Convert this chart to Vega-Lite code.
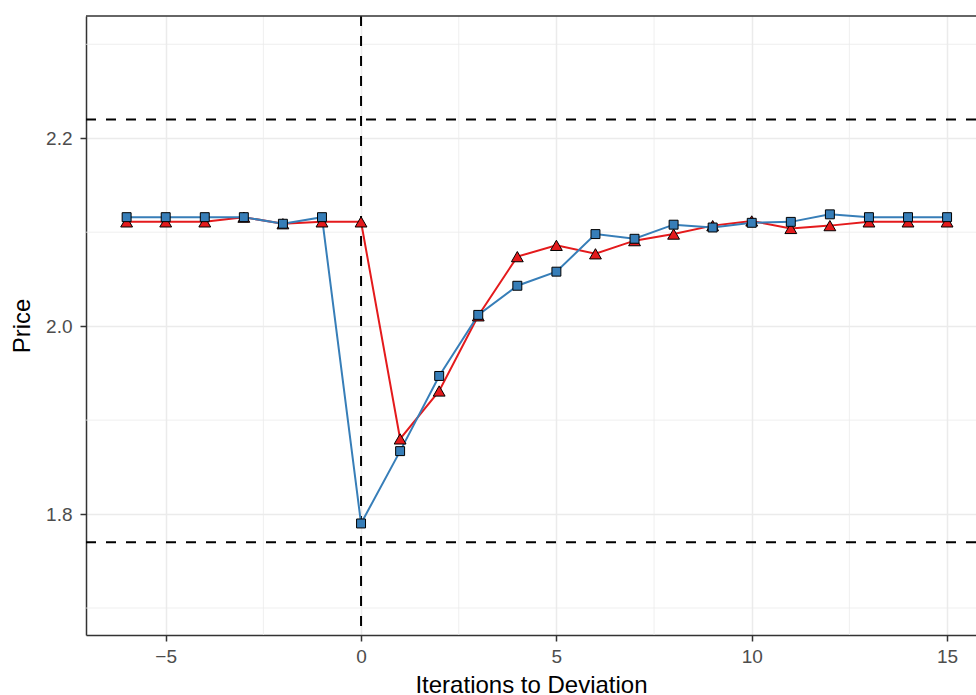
{
  "$schema": "https://vega.github.io/schema/vega-lite/v6.json",
  "width": 890,
  "height": 619,
  "autosize": {"type": "none"},
  "padding": {"left": 86, "top": 16, "right": 0, "bottom": 60},
  "background": "white",
  "config": {
    "view": {"stroke": null},
    "font": "Liberation Sans",
    "axis": {
      "gridColor": "#EBEBEB",
      "gridWidth": 1.5,
      "domainColor": "#333333",
      "domainWidth": 1.5,
      "tickColor": "#333333",
      "tickWidth": 1.5,
      "tickSize": 6,
      "labelColor": "#4D4D4D",
      "labelFontSize": 19,
      "labelFont": "Liberation Sans",
      "titleFont": "Liberation Sans",
      "titleFontSize": 24,
      "titleFontWeight": "normal",
      "titleColor": "black"
    }
  },
  "datasets": {
    "prices": [
      {"iter": -6, "series": "Firm 1", "price": 2.111},
      {"iter": -5, "series": "Firm 1", "price": 2.111},
      {"iter": -4, "series": "Firm 1", "price": 2.111},
      {"iter": -3, "series": "Firm 1", "price": 2.116},
      {"iter": -2, "series": "Firm 1", "price": 2.109},
      {"iter": -1, "series": "Firm 1", "price": 2.111},
      {"iter": 0, "series": "Firm 1", "price": 2.111},
      {"iter": 1, "series": "Firm 1", "price": 1.880},
      {"iter": 2, "series": "Firm 1", "price": 1.931},
      {"iter": 3, "series": "Firm 1", "price": 2.011},
      {"iter": 4, "series": "Firm 1", "price": 2.074},
      {"iter": 5, "series": "Firm 1", "price": 2.086},
      {"iter": 6, "series": "Firm 1", "price": 2.077},
      {"iter": 7, "series": "Firm 1", "price": 2.091},
      {"iter": 8, "series": "Firm 1", "price": 2.098},
      {"iter": 9, "series": "Firm 1", "price": 2.107},
      {"iter": 10, "series": "Firm 1", "price": 2.112},
      {"iter": 11, "series": "Firm 1", "price": 2.104},
      {"iter": 12, "series": "Firm 1", "price": 2.107},
      {"iter": 13, "series": "Firm 1", "price": 2.111},
      {"iter": 14, "series": "Firm 1", "price": 2.111},
      {"iter": 15, "series": "Firm 1", "price": 2.111},
      {"iter": -6, "series": "Firm 2", "price": 2.116},
      {"iter": -5, "series": "Firm 2", "price": 2.116},
      {"iter": -4, "series": "Firm 2", "price": 2.116},
      {"iter": -3, "series": "Firm 2", "price": 2.116},
      {"iter": -2, "series": "Firm 2", "price": 2.109},
      {"iter": -1, "series": "Firm 2", "price": 2.116},
      {"iter": 0, "series": "Firm 2", "price": 1.790},
      {"iter": 1, "series": "Firm 2", "price": 1.867},
      {"iter": 2, "series": "Firm 2", "price": 1.947},
      {"iter": 3, "series": "Firm 2", "price": 2.012},
      {"iter": 4, "series": "Firm 2", "price": 2.043},
      {"iter": 5, "series": "Firm 2", "price": 2.058},
      {"iter": 6, "series": "Firm 2", "price": 2.098},
      {"iter": 7, "series": "Firm 2", "price": 2.093},
      {"iter": 8, "series": "Firm 2", "price": 2.108},
      {"iter": 9, "series": "Firm 2", "price": 2.105},
      {"iter": 10, "series": "Firm 2", "price": 2.110},
      {"iter": 11, "series": "Firm 2", "price": 2.111},
      {"iter": 12, "series": "Firm 2", "price": 2.119},
      {"iter": 13, "series": "Firm 2", "price": 2.116},
      {"iter": 14, "series": "Firm 2", "price": 2.116},
      {"iter": 15, "series": "Firm 2", "price": 2.116}
    ],
    "minorx": [{"x": -2.5}, {"x": 2.5}, {"x": 7.5}, {"x": 12.5}],
    "minory": [{"y": 1.7}, {"y": 1.9}, {"y": 2.1}, {"y": 2.3}],
    "hlines": [{"y": 1.77}, {"y": 2.22}],
    "vlines": [{"x": 0}],
    "frame": [{"y": 2.3301}]
  },
  "resolve": {"axis": {"x": "independent", "y": "independent"}},
  "layer": [
    {
      "data": {"name": "prices"},
      "transform": [{"filter": "datum.series === 'Firm 1'"}],
      "mark": {"type": "line", "color": "#E41A1C", "strokeWidth": 2, "strokeOpacity": 0},
      "encoding": {
        "x": {"field": "iter", "type": "quantitative", "title": "Iterations to Deviation",
              "scale": {"domain": [-7.04, 15.74], "nice": false, "zero": false},
              "axis": {"values": [-5, 0, 5, 10, 15], "format": "d", "labelPadding": 6, "titlePadding": 7, "grid": true}},
        "y": {"field": "price", "type": "quantitative", "title": "Price",
              "scale": {"domain": [1.6713, 2.3301], "nice": false, "zero": false},
              "axis": {"values": [1.8, 2.0, 2.2], "format": ".1f", "labelPadding": 8, "titlePadding": 11, "grid": true}}
      }
    },
    {
      "data": {"name": "minorx"},
      "mark": {"type": "rule", "color": "#EBEBEB", "strokeWidth": 0.8},
      "encoding": {
        "x": {"field": "x", "type": "quantitative", "axis": null}
      }
    },
    {
      "data": {"name": "minory"},
      "mark": {"type": "rule", "color": "#EBEBEB", "strokeWidth": 0.8},
      "encoding": {
        "y": {"field": "y", "type": "quantitative", "axis": null}
      }
    },
    {
      "data": {"name": "hlines"},
      "mark": {"type": "rule", "color": "black", "strokeWidth": 2, "strokeDash": [10, 10]},
      "encoding": {
        "y": {"field": "y", "type": "quantitative", "axis": null}
      }
    },
    {
      "data": {"name": "vlines"},
      "mark": {"type": "rule", "color": "black", "strokeWidth": 2, "strokeDash": [10, 10]},
      "encoding": {
        "x": {"field": "x", "type": "quantitative", "axis": null}
      }
    },
    {
      "data": {"name": "prices"},
      "transform": [{"filter": "datum.series === 'Firm 1'"}],
      "mark": {"type": "line", "color": "#E41A1C", "strokeWidth": 2},
      "encoding": {
        "x": {"field": "iter", "type": "quantitative", "axis": null},
        "y": {"field": "price", "type": "quantitative", "axis": null}
      }
    },
    {
      "data": {"name": "prices"},
      "transform": [{"filter": "datum.series === 'Firm 2'"}],
      "mark": {"type": "line", "color": "#377EB8", "strokeWidth": 2},
      "encoding": {
        "x": {"field": "iter", "type": "quantitative", "axis": null},
        "y": {"field": "price", "type": "quantitative", "axis": null}
      }
    },
    {
      "data": {"name": "prices"},
      "transform": [{"filter": "datum.series === 'Firm 1'"}],
      "mark": {"type": "point", "shape": "triangle-up", "filled": true, "fill": "#E41A1C", "stroke": "black", "strokeWidth": 1, "size": 140, "opacity": 1},
      "encoding": {
        "x": {"field": "iter", "type": "quantitative", "axis": null},
        "y": {"field": "price", "type": "quantitative", "axis": null}
      }
    },
    {
      "data": {"name": "prices"},
      "transform": [{"filter": "datum.series === 'Firm 2'"}],
      "mark": {"type": "point", "shape": "square", "filled": true, "fill": "#377EB8", "stroke": "black", "strokeWidth": 1, "size": 80, "opacity": 1},
      "encoding": {
        "x": {"field": "iter", "type": "quantitative", "axis": null},
        "y": {"field": "price", "type": "quantitative", "axis": null}
      }
    },
    {
      "data": {"name": "frame"},
      "mark": {"type": "rule", "color": "#333333", "strokeWidth": 1.5},
      "encoding": {
        "y": {"field": "y", "type": "quantitative", "axis": null}
      }
    }
  ]
}
